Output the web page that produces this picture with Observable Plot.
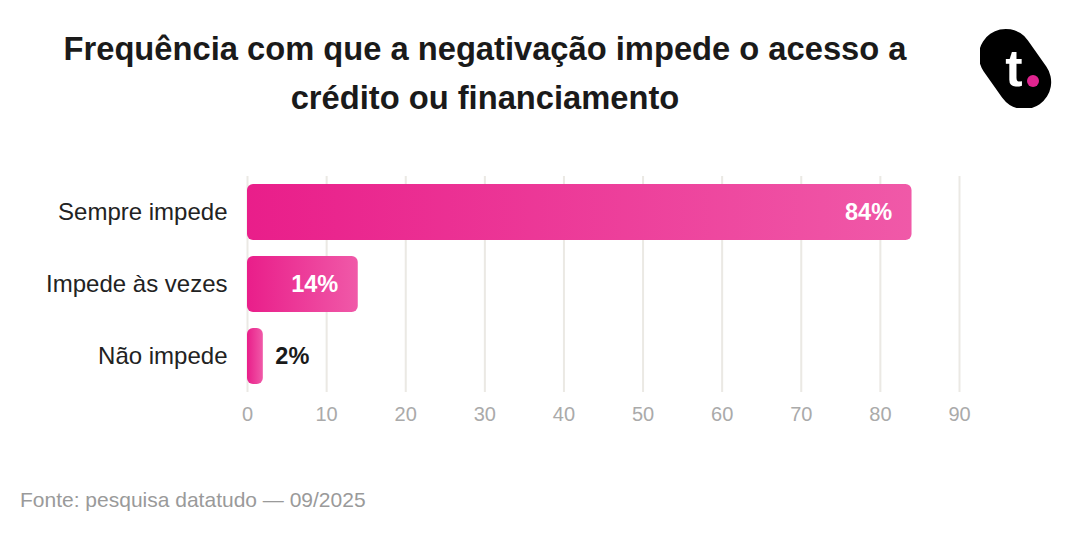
<!DOCTYPE html>
<html><head><meta charset="utf-8">
<script src="https://cdn.jsdelivr.net/npm/d3@7"></script>
<script src="https://cdn.jsdelivr.net/npm/@observablehq/plot@0.6"></script>
<style>
body{margin:0;width:1080px;height:540px;background:#fff;font-family:Arial,"Liberation Sans",sans-serif;position:relative;overflow:hidden}
#title{position:absolute;left:0;width:970px;top:24px;text-align:center;font-size:32.7px;font-weight:bold;color:#1a1a1a;line-height:49px}
#chart{position:absolute;left:0;top:160px}
#foot{position:absolute;left:20px;top:488px;font-size:21px;color:#9a9a9a}
#logo{position:absolute;left:980px;top:28px}
</style></head><body>
<div id="title">Frequência com que a negativação impede o acesso a<br>crédito ou financiamento</div>
<svg id="logo" width="80" height="80" viewBox="0 0 80 80">
<rect x="8" y="-2" width="54" height="86" rx="27" fill="#000" transform="rotate(-35 35 41)"/>
<text x="34" y="58" font-size="52" font-weight="bold" fill="#fff" text-anchor="middle" font-family="Arial">t</text>
<circle cx="53" cy="53" r="6" fill="#e0248f"/>
</svg>
<div id="chart"></div>
<div id="foot">Fonte: pesquisa datatudo — 09/2025</div>
<script>
const categories = ["Sempre impede","Impede às vezes","Não impede"];
const values = [84,14,2];
const labels = ["84%","14%","2%"];
const data = categories.map((c,i)=>({c,v:values[i],l:labels[i],inside:values[i]>5}));
const plot = Plot.plot({
  width:1080,height:280,marginLeft:247,marginRight:121,marginTop:16,marginBottom:48,
  style:{fontFamily:"Arial, 'Liberation Sans', sans-serif"},
  x:{domain:[0,90],ticks:d3.range(0,91,10),grid:true,label:null},
  y:{domain:categories,paddingInner:0.22,paddingOuter:0.11,label:null},
  marks:[
    Plot.gridX(d3.range(0,91,10),{stroke:"#ebe9e4",strokeOpacity:1,strokeWidth:2}),
    Plot.barX(data,{x:"v",y:"c",fill:"url(#bgrad)",rx:6}),
    Plot.text(data.filter(d=>d.inside),{x:"v",y:"c",text:"l",textAnchor:"end",dx:-20,fill:"#fff",fontSize:23.5,fontWeight:"bold"}),
    Plot.text(data.filter(d=>!d.inside),{x:"v",y:"c",text:"l",textAnchor:"start",dx:12,fill:"#1a1a1a",fontSize:23.5,fontWeight:"bold"}),
    Plot.axisX({tickSize:0,tickPadding:14,fontSize:20,color:"#aaa",label:null}),
    Plot.axisY({tickSize:0,tickPadding:20,fontSize:24,color:"#222",label:null})
  ]
});
const ns="http://www.w3.org/2000/svg";
const defs=document.createElementNS(ns,"defs");
defs.innerHTML='<linearGradient id="bgrad" x1="0" x2="1" y1="0" y2="0"><stop offset="0" stop-color="#e91e8a"/><stop offset="1" stop-color="#f059a8"/></linearGradient>';
plot.insertBefore(defs,plot.firstChild);
document.getElementById("chart").appendChild(plot);
</script></body></html>
